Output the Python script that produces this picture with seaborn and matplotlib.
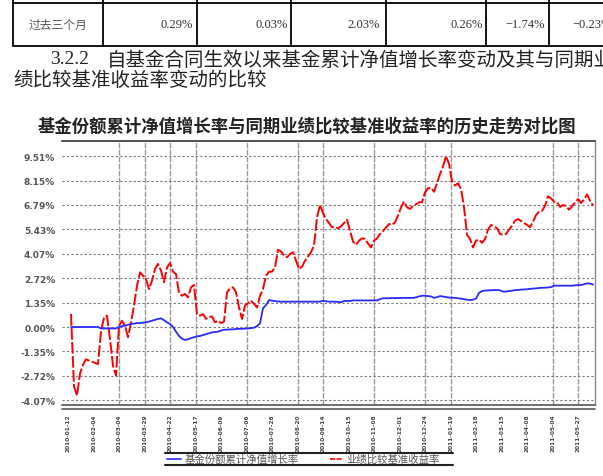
import numpy as np
import pandas as pd
import matplotlib
matplotlib.use("Agg")
import matplotlib.pyplot as plt
from matplotlib.lines import Line2D
import seaborn as sns

# ---- 数据 ----
row_label = "过去三个月"
row_values = ["0.29%", "0.03%", "2.03%", "0.26%", "−1.74%", "−0.23%"]

heading_no = "3.2.2"
heading_1 = "自基金合同生效以来基金累计净值增长率变动及其与同期业"
heading_2 = "绩比较基准收益率变动的比较"

chart_title = "基金份额累计净值增长率与同期业绩比较基准收益率的历史走势对比图"
legend_labels = ["基金份额累计净值增长率", "业绩比较基准收益率"]

y_ticks = [-4.07, -2.72, -1.36, 0.0, 1.36, 2.72, 4.07, 5.43, 6.79, 8.15, 9.51]
y_tick_labels = ["-4.07%", "-2.72%", "-1.35%", "0.00%", "1.35%", "2.72%",
                 "4.07%", "5.43%", "6.79%", "8.15%", "9.51%"]

x_tick_labels = ["2010-01-12", "2010-02-04", "2010-03-04", "2010-03-29", "2010-04-22",
                 "2010-05-17", "2010-06-09", "2010-07-06", "2010-07-28", "2010-08-20",
                 "2010-09-14", "2010-10-15", "2010-11-08", "2010-12-01", "2010-12-24",
                 "2011-01-19", "2011-02-18", "2011-03-15", "2011-04-08", "2011-05-04",
                 "2011-05-27"]
grid_ticks = [2, 3, 4, 5, 7, 9, 10, 12, 14, 15, 19, 20]

# 业绩比较基准收益率 (%), 每两个交易日一个点
benchmark = [
    0.72, -3.30, -3.82, -2.60, -2.10, -1.80, -1.87, -1.93, -2.00, -2.06,
    -0.26, 0.54, 0.63, -0.67, -2.15, -2.70, 0.07, 0.35, 0.07, -0.57,
    0.26, 1.19, 2.30, 3.04, 2.86, 2.67, 2.11, 2.58, 3.23, 3.51,
    3.14, 2.49, 3.32, 3.56, 3.08, 2.95, 1.89, 1.74, 1.84, 1.65,
    2.21, 2.34, 0.72, 0.63, 0.72, 0.45, 0.54, 0.59, 0.26, 0.35,
    0.22, 0.30, 1.93, 2.15, 2.21, 1.93, 1.09, 0.45, 1.19, 1.33,
    1.47, 1.28, 1.09, 1.74, 2.11, 2.86, 3.08, 3.08, 3.32, 4.30,
    4.21, 3.97, 3.88, 4.06, 4.16, 3.69, 3.23, 3.36, 3.69, 3.93,
    4.16, 4.53, 6.10, 6.79, 6.34, 6.01, 5.79, 5.55, 5.55,
    5.49, 5.60, 5.79, 5.97, 5.36, 4.75, 4.57, 4.81, 4.93, 4.90,
    4.64, 4.43, 4.81, 4.93, 5.18, 5.34, 5.53, 5.73, 5.68, 5.83,
    6.20, 6.66, 6.98, 6.66, 6.57, 6.75, 6.83, 6.94, 6.94, 7.50,
    7.72, 7.74, 7.53, 8.01, 8.52, 8.94, 9.50, 9.07, 8.09, 7.87,
    8.00, 7.68, 6.66, 5.12, 4.90, 4.43, 4.81, 4.86, 4.68, 4.90,
    5.42, 5.68, 5.60, 5.49, 5.18, 5.12, 5.18, 5.42, 5.64, 5.92,
    6.01, 5.90, 5.79, 5.68, 5.55, 5.86, 6.23, 6.42, 6.46, 6.75,
    7.27, 7.16, 6.98, 6.94, 6.68, 6.79, 6.72, 6.53, 6.72, 6.94,
    7.12, 6.90, 7.09, 7.38, 7.03, 6.75,
]

# 基金份额累计净值增长率 (%)
fund_growth = [
    0.00, 0.00, 0.00, 0.00, 0.00, 0.00, 0.00, 0.00, 0.00, 0.00,
    -0.08, -0.08, -0.08, -0.08, -0.08, -0.08, 0.00, 0.05, 0.07, 0.12,
    0.17, 0.19, 0.22, 0.22, 0.24, 0.26, 0.30, 0.35, 0.40, 0.45,
    0.48, 0.38, 0.26, 0.17, 0.00, -0.26, -0.50, -0.65, -0.72, -0.68,
    -0.62, -0.57, -0.52, -0.50, -0.45, -0.40, -0.35, -0.30, -0.28, -0.26,
    -0.20, -0.15, -0.15, -0.13, -0.13, -0.11, -0.10, -0.10, -0.09, -0.08,
    -0.06, -0.04, 0.05, 0.20, 1.05, 1.22, 1.50, 1.47, 1.44, 1.42,
    1.41, 1.41, 1.41, 1.41, 1.41, 1.41, 1.41, 1.41, 1.41, 1.41,
    1.41, 1.41, 1.41, 1.41, 1.46, 1.43, 1.41, 1.41, 1.41,
    1.40, 1.38, 1.45, 1.45, 1.45, 1.48, 1.48, 1.48, 1.48, 1.48,
    1.48, 1.48, 1.48, 1.48, 1.55, 1.60, 1.60, 1.60, 1.61, 1.61,
    1.61, 1.62, 1.62, 1.62, 1.62, 1.62, 1.65, 1.70, 1.74, 1.74,
    1.72, 1.70, 1.62, 1.66, 1.72, 1.70, 1.66, 1.64, 1.63, 1.62,
    1.60, 1.58, 1.55, 1.52, 1.50, 1.52, 1.58, 1.90, 2.00, 2.03,
    2.04, 2.04, 2.05, 2.06, 2.04, 1.97, 1.97, 2.00, 2.02, 2.05,
    2.06, 2.08, 2.09, 2.10, 2.12, 2.14, 2.15, 2.17, 2.18, 2.19,
    2.20, 2.22, 2.30, 2.30, 2.30, 2.30, 2.30, 2.30, 2.30, 2.32,
    2.33, 2.34, 2.38, 2.43, 2.42, 2.36,
]

df = pd.DataFrame({
    "day": 2 + 2 * np.arange(len(benchmark)),
    "benchmark": benchmark,
    "fund": fund_growth,
})

sns.set_style("white")
plt.rcParams['font.family'] = ['Noto Sans CJK SC', 'DejaVu Sans']
plt.rcParams['axes.unicode_minus'] = False

W, H = 603, 477
fig = plt.figure(figsize=(W / 100, H / 100), dpi=100)


def fx(px):
    return px / W


def fy(py):
    return 1 - py / H


def fline(x0, x1, y0, y1, **kw):
    fig.add_artist(Line2D([fx(x0), fx(x1)], [fy(y0), fy(y1)], **kw))


# ---- 表格行 ----
fline(13, 603, 4, 4, color='black', lw=1.3)
fline(13, 603, 47, 47, color='black', lw=1.3)
for vx in [13, 103, 197, 291, 386, 486, 549]:
    fline(vx, vx, 0, 47, color='black', lw=1.3)
fig.text(fx(58), fy(25), row_label, ha='center', va='center', fontsize=8.5, color='#555')
for xr, v in zip([193, 288, 380, 483, 545, 612], row_values):
    fig.text(fx(xr), fy(25), v, ha='right', va='center', fontsize=9,
             family=['Liberation Serif', 'DejaVu Serif'], color='#333')

# ---- 标题文字 ----
fig.text(fx(50), fy(60), heading_no, ha='left', va='center', fontsize=14,
         family=['Liberation Serif', 'DejaVu Serif'], color='#222')
fig.text(fx(107), fy(60), heading_1, ha='left', va='center', fontsize=14, color='#222')
fig.text(fx(13), fy(80), heading_2, ha='left', va='center', fontsize=14, color='#222')

fig.text(fx(307), fy(127), chart_title, ha='center', va='center', fontsize=12.5,
         fontweight='bold', color='#222')

# ---- 图 ----
ax = fig.add_axes([fx(62), fy(406), (595 - 62) / W, (406 - 142) / H])
ax.set_axisbelow(True)
for k in grid_ticks:
    ax.axvline(17 * k, color='#999999', lw=1.0, ls=(0, (4, 1)), zorder=0.5)
ax.yaxis.grid(True, color='#777777', lw=0.8, ls=(0, (2, 2)))

sns.lineplot(data=df, x="day", y="benchmark", ax=ax, color='#ff0000', lw=1.4,
             linestyle=(0, (6, 1.2)), estimator=None)
sns.lineplot(data=df, x="day", y="fund", ax=ax, color='#2a2aff', lw=1.3, estimator=None)

ax.set_xlim(-4, 351.3)
ax.set_ylim(-4.34, 10.35)
ax.set_yticks(y_ticks)
ax.set_yticklabels(y_tick_labels, fontsize=6.5, fontweight='bold', color='#555',
                   family=['DejaVu Sans'])
ax.set_xticks([17 * k for k in range(len(x_tick_labels))])
ax.set_xticklabels(x_tick_labels, rotation=90, fontsize=4.2, fontweight='bold',
                   color='#444', family=['DejaVu Sans'])
ax.tick_params(axis='both', length=0)
ax.tick_params(axis='y', pad=5)
ax.tick_params(axis='x', pad=6)
ax.set_xlabel("")
ax.set_ylabel("")

ax.spines['left'].set_visible(False)
ax.spines['top'].set_color('#333333')
ax.spines['top'].set_linewidth(1.2)
ax.spines['right'].set_color('#888888')
ax.spines['right'].set_linewidth(1.0)
ax.spines['bottom'].set_color('#555555')
ax.spines['bottom'].set_linewidth(1.2)
fline(62, 595, 409.5, 409.5, color='#555555', lw=1.2)

# ---- 图例 ----
fline(165, 453, 454, 454, color='#222', lw=1.5)
fline(165, 453, 466, 466, color='#222', lw=1.5)
fline(167, 181, 460, 460, color='#2a2aff', lw=1.2)
fig.text(fx(185), fy(460), legend_labels[0], ha='left', va='center', fontsize=7.5, color='#555')
fline(330, 343, 460, 460, color='#ff0000', lw=1.2, ls=(0, (3, 1)))
fig.text(fx(346), fy(460), legend_labels[1], ha='left', va='center', fontsize=7.5, color='#555')

fig.savefig("out.png", dpi=100)
